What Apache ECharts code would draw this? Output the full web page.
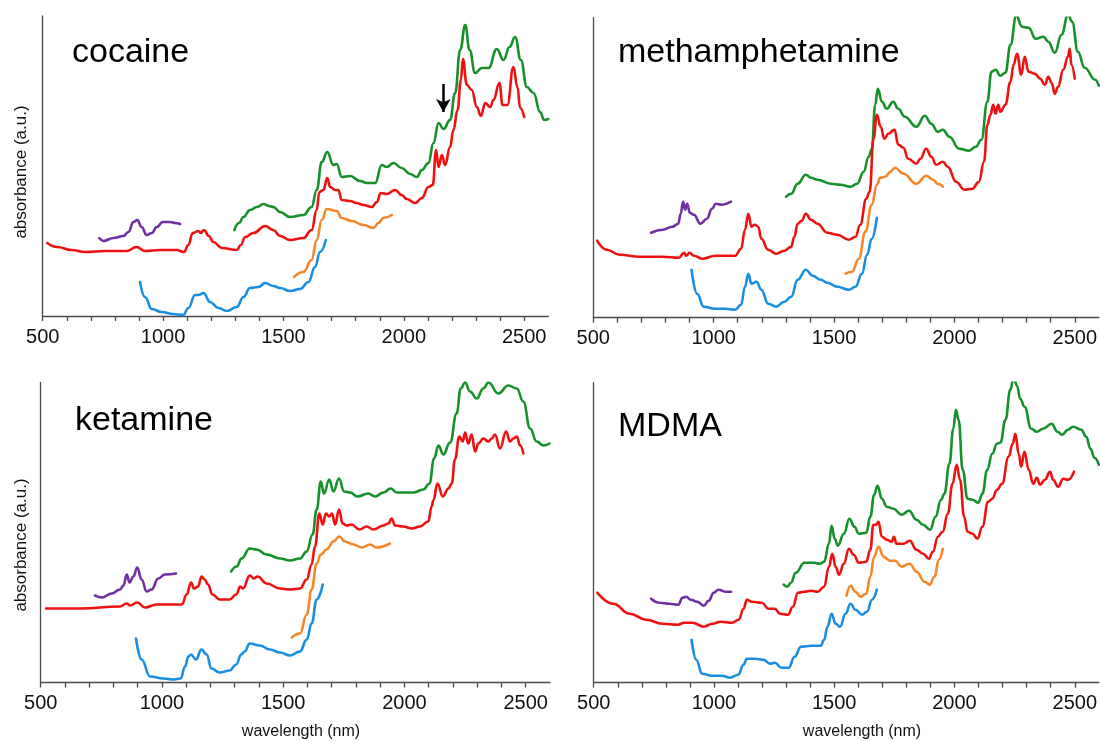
<!DOCTYPE html>
<html>
<head>
<meta charset="utf-8">
<script src="https://cdn.jsdelivr.net/npm/echarts@6/dist/echarts.min.js"></script>
<style>
html,body{margin:0;padding:0;background:#fff;}
#chart{width:1100px;height:741px;}
</style>
</head>
<body>
<div id="chart"></div>
<script>
// ---- data: [wavelength (nm), absorbance (a.u., offset spectra)] ----
const panelNames = ['cocaine', 'methamphetamine', 'ketamine', 'MDMA'];
const xTickLabels = [500, 1000, 1500, 2000, 2500];

// cocaine
const cocainePurple = [[735,78],[752,75],[794,78],[835,80],[856,84],[877,94],[893,96],[911,89],[932,81],[953,83],[974,89],[999,94],[1029,94],[1050,93],[1071,92]];
const cocaineRed = [[519,73],[560,69],[620,66],[676,64],[760,65],[849,65],[890,69],[925,65],[987,66],[1057,66],[1087,64],[1105,71],[1123,83],[1147,85],[1157,83],[1170,86],[1190,80],[1209,74],[1244,68],[1306,66],[1323,71],[1341,79],[1375,83],[1424,90],[1458,86],[1486,80],[1527,76],[1583,78],[1617,86],[1638,106],[1649,124],[1666,126],[1682,138],[1694,129],[1714,126],[1728,126],[1742,116],[1777,115],[1804,113],[1832,111],[1867,109],[1888,114],[1904,123],[1929,122],[1964,126],[1991,121],[2012,117],[2047,113],[2075,118],[2102,129],[2120,131],[2134,166],[2144,149],[2158,161],[2171,151],[2192,169],[2206,186],[2223,206],[2237,236],[2245,257],[2262,231],[2282,226],[2303,209],[2320,200],[2338,213],[2359,209],[2372,216],[2397,233],[2410,211],[2430,211],[2455,249],[2472,229],[2483,208],[2500,199]];
const cocaineGreen = [[1296,86],[1315,93],[1334,99],[1361,106],[1390,109],[1417,112],[1440,110],[1458,109],[1486,104],[1527,99],[1583,101],[1617,109],[1638,126],[1659,154],[1682,164],[1707,151],[1721,152],[1742,139],[1777,140],[1818,135],[1846,133],[1881,133],[1908,151],[1929,149],[1957,153],[1991,148],[2026,142],[2054,139],[2075,146],[2102,153],[2123,173],[2144,193],[2165,187],[2192,196],[2213,223],[2234,266],[2255,291],[2273,266],[2296,243],[2324,248],[2352,248],[2386,267],[2414,256],[2439,269],[2462,279],[2486,256],[2511,229],[2539,223],[2566,204],[2583,196],[2600,197]];
const cocaineOrange = [[1544,39],[1583,44],[1617,56],[1638,76],[1659,96],[1680,107],[1721,105],[1742,98],[1784,95],[1832,91],[1874,88],[1894,93],[1915,98],[1950,101]];
const cocaineBlue = [[904,34],[925,19],[953,7],[994,4],[1043,2],[1084,1],[1105,8],[1133,21],[1147,21],[1168,23],[1195,14],[1230,8],[1265,5],[1306,9],[1334,19],[1361,28],[1396,29],[1424,33],[1458,30],[1486,28],[1527,25],[1569,27],[1604,34],[1631,49],[1652,64],[1676,76]];

// methamphetamine
const methPurple = [[740,85],[788,88],[829,91],[853,94],[863,104],[873,116],[881,108],[890,114],[901,105],[918,103],[945,94],[972,99],[993,109],[1009,114],[1034,113],[1072,116]];
const methRed = [[516,77],[555,68],[610,63],[692,61],[788,61],[856,60],[877,65],[886,62],[900,65],[918,62],[952,59],[1007,62],[1048,62],[1089,62],[1114,69],[1130,88],[1144,104],[1157,91],[1171,93],[1185,91],[1198,79],[1226,68],[1260,64],[1294,67],[1322,71],[1335,81],[1349,94],[1366,97],[1383,104],[1404,98],[1431,94],[1472,85],[1514,83],[1562,78],[1589,81],[1609,93],[1634,119],[1648,126],[1664,179],[1678,203],[1694,191],[1709,179],[1726,184],[1751,188],[1767,173],[1788,170],[1808,159],[1842,154],[1859,159],[1883,169],[1904,161],[1924,153],[1952,156],[1972,151],[2007,136],[2041,128],[2075,129],[2102,136],[2123,156],[2137,193],[2150,203],[2161,213],[2171,204],[2182,213],[2191,206],[2212,213],[2233,236],[2246,253],[2260,264],[2278,243],[2292,261],[2308,246],[2335,244],[2356,239],[2376,233],[2390,241],[2404,235],[2417,224],[2431,231],[2452,248],[2472,261],[2479,269],[2486,253],[2500,239]];
const methGreen = [[1301,121],[1322,124],[1349,134],[1383,143],[1404,140],[1431,138],[1486,134],[1527,133],[1568,131],[1596,134],[1623,146],[1644,161],[1657,169],[1671,213],[1682,229],[1699,216],[1719,209],[1746,216],[1767,209],[1794,201],[1842,191],[1877,202],[1904,194],[1931,186],[1952,188],[1979,181],[2020,169],[2061,167],[2089,171],[2112,178],[2137,216],[2154,246],[2171,248],[2191,242],[2212,245],[2233,273],[2257,302],[2281,291],[2308,290],[2338,279],[2370,281],[2390,276],[2417,265],[2445,283],[2472,303],[2489,296],[2513,266],[2541,250],[2585,238],[2600,232]];
const methOrange = [[1548,44],[1575,46],[1603,59],[1630,86],[1657,113],[1678,133],[1692,140],[1712,141],[1735,146],[1753,150],[1788,144],[1842,134],[1883,142],[1911,138],[1931,134],[1952,131]];
const methBlue = [[908,48],[931,24],[959,11],[1007,9],[1048,9],[1089,8],[1114,13],[1130,31],[1144,44],[1157,34],[1178,36],[1198,28],[1226,14],[1260,11],[1294,16],[1322,21],[1349,38],[1383,48],[1411,42],[1445,38],[1472,35],[1514,31],[1562,28],[1589,31],[1616,44],[1637,63],[1657,79],[1678,100]];

// ketamine
const ketPurple = [[724,87],[752,85],[793,89],[827,93],[841,97],[855,108],[866,100],[882,106],[898,115],[916,103],[937,91],[957,93],[985,104],[1012,108],[1058,109]];
const ketRed = [[522,74],[662,74],[827,76],[855,79],[868,77],[898,80],[930,75],[978,78],[1047,78],[1082,78],[1102,88],[1120,100],[1132,94],[1149,96],[1163,106],[1176,103],[1190,98],[1208,88],[1238,83],[1279,83],[1306,88],[1323,96],[1334,94],[1362,107],[1379,104],[1394,106],[1432,99],[1487,94],[1528,93],[1569,94],[1597,103],[1617,118],[1631,136],[1649,169],[1663,158],[1676,169],[1690,166],[1701,169],[1714,158],[1730,173],[1745,159],[1762,157],[1782,158],[1814,153],[1844,156],[1872,153],[1913,157],[1934,159],[1947,164],[1961,157],[1995,156],[2030,154],[2064,156],[2098,161],[2112,176],[2119,182],[2136,199],[2158,186],[2181,194],[2195,199],[2208,223],[2226,246],[2240,241],[2250,250],[2263,239],[2277,248],[2291,231],[2305,239],[2325,244],[2346,241],[2360,244],[2373,248],[2394,234],[2419,251],[2435,241],[2449,244],[2463,246],[2477,237],[2490,229]];
const ketGreen = [[1285,111],[1308,116],[1328,124],[1362,134],[1390,133],[1432,128],[1487,124],[1528,122],[1569,124],[1597,131],[1621,148],[1638,173],[1655,201],[1668,189],[1690,203],[1707,191],[1730,204],[1751,191],[1776,190],[1806,186],[1851,189],[1879,186],[1913,190],[1943,194],[1968,190],[2037,190],[2078,193],[2103,199],[2122,224],[2140,237],[2160,228],[2188,240],[2215,269],[2232,294],[2250,300],[2270,291],[2298,284],[2325,294],[2346,300],[2387,289],[2428,297],[2463,294],[2490,281],[2518,254],[2545,241],[2573,237],[2598,239]];
const ketOrange = [[1535,45],[1569,49],[1597,68],[1617,93],[1638,119],[1655,128],[1679,133],[1707,141],[1731,146],[1755,141],[1789,138],[1824,135],[1858,138],[1885,135],[1940,139]];
const ketBlue = [[893,44],[916,23],[951,6],[1006,4],[1047,3],[1077,4],[1095,16],[1109,26],[1120,28],[1140,23],[1163,33],[1184,28],[1204,14],[1238,10],[1279,12],[1306,18],[1327,28],[1341,31],[1362,39],[1403,37],[1445,33],[1487,30],[1528,27],[1569,31],[1597,43],[1617,59],[1638,83],[1663,98]];

// MDMA
const mdmaPurple = [[739,84],[773,80],[814,79],[852,78],[869,85],[885,86],[903,83],[930,81],[958,77],[978,82],[999,90],[1019,93],[1047,91],[1071,91]];
const mdmaRed = [[515,90],[581,79],[649,69],[718,63],[786,59],[852,58],[875,60],[910,60],[958,56],[993,59],[1028,61],[1075,60],[1103,63],[1123,74],[1137,83],[1157,81],[1199,80],[1226,74],[1253,74],[1274,69],[1308,68],[1328,76],[1349,90],[1376,91],[1403,92],[1431,91],[1458,96],[1478,116],[1492,129],[1506,116],[1520,108],[1540,119],[1561,134],[1581,128],[1602,120],[1633,121],[1650,133],[1663,158],[1674,158],[1684,161],[1698,146],[1718,143],[1739,141],[1748,146],[1759,139],[1787,139],[1814,142],[1842,133],[1869,129],[1894,124],[1910,131],[1931,146],[1951,151],[1972,169],[1992,199],[2009,218],[2023,203],[2040,166],[2054,151],[2075,149],[2095,144],[2116,156],[2140,181],[2157,184],[2177,193],[2198,199],[2225,226],[2242,239],[2253,249],[2267,229],[2277,216],[2291,231],[2308,213],[2328,199],[2342,205],[2356,198],[2376,203],[2397,211],[2410,203],[2431,196],[2452,204],[2472,203],[2497,211]];
const mdmaGreen = [[1290,98],[1305,96],[1320,100],[1340,110],[1376,120],[1417,120],[1440,119],[1458,121],[1478,139],[1489,157],[1502,144],[1515,137],[1540,149],[1563,164],[1584,156],[1602,149],[1633,150],[1650,166],[1666,188],[1680,197],[1698,184],[1718,176],[1746,174],[1780,168],[1811,172],[1842,163],[1869,158],[1899,153],[1921,166],[1944,183],[1958,189],[1979,219],[1995,254],[2006,273],[2017,263],[2034,213],[2054,184],[2075,183],[2099,180],[2116,189],[2136,213],[2157,229],[2177,239],[2191,240],[2212,263],[2232,293],[2246,305],[2260,297],[2273,284],[2291,276],[2319,254],[2342,251],[2369,254],[2404,259],[2428,251],[2447,248],[2472,253],[2493,256],[2527,253],[2548,246],[2565,234],[2582,225],[2600,218]];
const mdmaOrange = [[1551,87],[1568,97],[1588,91],[1609,86],[1633,89],[1650,106],[1666,126],[1684,136],[1705,126],[1732,122],[1753,122],[1780,116],[1814,119],[1842,111],[1876,101],[1896,98],[1917,106],[1935,123],[1951,134]];
const mdmaBlue = [[907,43],[926,23],[951,9],[992,7],[1033,7],[1067,5],[1101,8],[1123,18],[1137,24],[1171,24],[1205,23],[1233,19],[1253,20],[1281,15],[1311,15],[1335,26],[1362,36],[1403,37],[1444,37],[1458,43],[1472,56],[1489,69],[1506,59],[1524,56],[1547,69],[1568,79],[1588,73],[1616,68],[1636,71],[1657,83],[1677,93]];

// arrow annotation in the cocaine panel: [wavelength, from, to]
const cocaineArrow = [2164, 232, 204];

// ---- chart ----
const colors = {purple:'#7030a0', red:'#ee1111', green:'#15902a', orange:'#f5862a', blue:'#1a8ee0'};
const panelData = [
  [cocainePurple, cocaineRed, cocaineGreen, cocaineOrange, cocaineBlue],
  [methPurple, methRed, methGreen, methOrange, methBlue],
  [ketPurple, ketRed, ketGreen, ketOrange, ketBlue],
  [mdmaPurple, mdmaRed, mdmaGreen, mdmaOrange, mdmaBlue]
];
const colorOrder = ['purple','red','green','orange','blue'];

const grids = [
  {left:42.7, top:16, width:505.6, height:300},
  {left:593.3, top:17.7, width:511, height:300},
  {left:40.7, top:382.5, width:509.3, height:300},
  {left:593.7, top:382.7, width:510.7, height:300}
];
const FONT = '"Liberation Sans", Arial, sans-serif';
const axisColor = '#4a4a4a';

const xAxes = grids.map((g, i) => ({
  type:'value', gridIndex:i, min:500, max:2600, interval:100,
  axisLine:{show:true, onZero:false, lineStyle:{color:axisColor, width:1.3}},
  axisTick:{show:true, length:5, lineStyle:{color:axisColor, width:1.3}},
  axisLabel:{show:true, margin:11, color:'#111', fontSize:20, fontFamily:FONT,
    showMaxLabel:false,
    formatter: v => xTickLabels.indexOf(v) >= 0 ? String(v) : ''},
  splitLine:{show:false}
}));
const yAxes = grids.map((g, i) => ({
  type:'value', gridIndex:i, min:0, max:300,
  axisLine:{show:true, lineStyle:{color:axisColor, width:1.3}},
  axisTick:{show:false}, axisLabel:{show:false}, splitLine:{show:false}
}));

const series = [];
panelData.forEach((curves, p) => {
  curves.forEach((d, c) => {
    const s = {
      type:'line', xAxisIndex:p, yAxisIndex:p, data:d,
      showSymbol:false, symbol:'none', smooth:0.45, smoothMonotone:'x',
      lineStyle:{color:colors[colorOrder[c]], width:2.6, join:'round', cap:'round'},
      z: 5 - c, animation:false, silent:true
    };
    if (p === 0 && colorOrder[c] === 'green') {
      s.markLine = {
        silent:true, symbol:['none','arrow'], symbolSize:[11,13], animation:false,
        lineStyle:{color:'#000', width:2.5, type:'solid'}, label:{show:false},
        data:[[{coord:[cocaineArrow[0], cocaineArrow[1]]},{coord:[cocaineArrow[0], cocaineArrow[2]]}]]
      };
    }
    series.push(s);
  });
});

function title(text, x, y) {
  return {type:'text', x:x, y:y,
    style:{text:text, font:'34px ' + FONT, fill:'#000', textAlign:'left', textVerticalAlign:'middle'}};
}
const graphic = [
  title(panelNames[0], 72, 53),
  title(panelNames[1], 618, 53),
  title(panelNames[2], 75, 421),
  title(panelNames[3], 618, 427),
  {type:'text', x:21, y:172, rotation:Math.PI/2,
    style:{text:'absorbance (a.u.)', font:'17px ' + FONT, fill:'#111', textAlign:'center', textVerticalAlign:'middle'}},
  {type:'text', x:21, y:545, rotation:Math.PI/2,
    style:{text:'absorbance (a.u.)', font:'17px ' + FONT, fill:'#111', textAlign:'center', textVerticalAlign:'middle'}},
  {type:'text', x:301, y:732,
    style:{text:'wavelength (nm)', font:'16px ' + FONT, fill:'#111', textAlign:'center', textVerticalAlign:'middle'}},
  {type:'text', x:862, y:732,
    style:{text:'wavelength (nm)', font:'16px ' + FONT, fill:'#111', textAlign:'center', textVerticalAlign:'middle'}}
];

const chart = echarts.init(document.getElementById('chart'), null, {renderer:'canvas'});
chart.setOption({
  backgroundColor:'#fff',
  animation:false,
  grid: grids,
  xAxis: xAxes,
  yAxis: yAxes,
  series: series,
  graphic: graphic
});
</script>
</body>
</html>
